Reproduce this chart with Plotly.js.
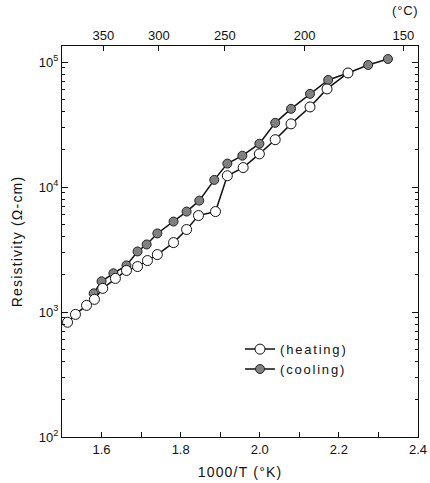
<!DOCTYPE html>
<html><head><meta charset="utf-8">
<script src="https://cdn.plot.ly/plotly-3.0.1.min.js"></script>
<style>html,body{margin:0;padding:0;background:#fff}#plot{width:430px;height:483px}
.xtitle, .ytitle {letter-spacing:1.2px}
.legendtext {letter-spacing:1.8px}
.annotation-text {letter-spacing:0.8px}
</style>
</head><body><div id="plot"></div>
<script>
// Heating series: 1000/T (1/K) and resistivity (ohm-cm)
const heatX = [1.514,1.534,1.562,1.582,1.603,1.635,1.663,1.691,1.716,1.741,1.782,1.815,1.845,1.888,1.918,1.958,1.999,2.039,2.079,2.127,2.170,2.223];
const heatY = [828,957,1130,1262,1545,1857,2150,2310,2580,2880,3590,4570,5910,6360,12300,14300,18400,23900,32000,43700,60900,81700];
// Cooling series
const coolX = [1.580,1.600,1.630,1.663,1.691,1.714,1.741,1.782,1.815,1.847,1.885,1.918,1.956,1.999,2.039,2.079,2.127,2.173,2.223,2.274,2.324];
const coolY = [1410,1760,2040,2360,3050,3470,4250,5290,6360,7780,11400,15400,17800,22200,32600,42200,55600,71800,81700,94600,105700];
// Top axis temperature labels (deg C)
const celsius = [350,300,250,200,150];
const celsiusPos = celsius.map(c => 1000/(c+273.15));
// Y tick labels
const yTickVals = [100,1000,10000,100000];
const yTickText = ['10<sup>2</sup>','10<sup>3</sup>','10<sup>4</sup>','10<sup>5</sup>'];

const fam = 'Liberation Sans, Arial, sans-serif';
const font = {family:fam, size:13, color:'#111'};
const traces = [
  {x:coolX, y:coolY, name:'(cooling)', mode:'lines+markers', type:'scatter',
   line:{color:'#111', width:1.5},
   marker:{symbol:'circle', size:9, color:'#808080', line:{color:'#222', width:1}}},
  {x:heatX, y:heatY, name:'(heating)', mode:'lines+markers', type:'scatter',
   line:{color:'#111', width:1.5},
   marker:{symbol:'circle', size:10, color:'#fff', line:{color:'#111', width:1}}},
  {x:[null], y:[null], xaxis:'x2', yaxis:'y2', showlegend:false, hoverinfo:'skip'}
];
const minorY = [];
for (let d=2; d<5; d++) for (let m=2; m<=9; m++) minorY.push(m*Math.pow(10,d));
const yRange = [2, 5.128];
const layout = {
  width:430, height:483,
  margin:{l:62, r:12, t:46, b:46},
  paper_bgcolor:'#fff', plot_bgcolor:'#fff',
  font:font,
  showlegend:true,
  legend:{x:0.5, y:0.263, xanchor:'left', yanchor:'top', traceorder:'reversed',
          bgcolor:'rgba(0,0,0,0)', font:{family:fam, size:13, color:'#111'},
          itemwidth:30, tracegroupgap:0},
  xaxis:{range:[1.5,2.4], tick0:1.6, dtick:0.2, tickformat:'.1f',
         ticks:'inside', ticklen:5, tickcolor:'#111', showgrid:false, zeroline:false,
         showline:true, linecolor:'#111', linewidth:1.2,
         minor:{dtick:0.1, tick0:1.5, ticks:'inside', ticklen:5, tickcolor:'#111', showgrid:false},
         title:{text:'1000/T (°K)', font:{family:fam, size:14}, standoff:11},
         tickfont:{family:fam, size:13}},
  xaxis2:{overlaying:'x', side:'top', range:[1.5,2.4], tickmode:'array',
          tickvals:celsiusPos, ticktext:celsius.map(String),
          ticks:'inside', ticklen:5, tickcolor:'#111', showgrid:false, zeroline:false,
          showline:true, linecolor:'#111', linewidth:1.2,
          tickfont:{family:fam, size:13}},
  yaxis:{type:'log', range:yRange, tickmode:'array', tickvals:yTickVals, ticktext:yTickText,
         ticks:'inside', ticklen:6, tickcolor:'#111', showgrid:false, zeroline:false,
         showline:true, linecolor:'#111', linewidth:1.2,
         minor:{tickmode:'array', tickvals:minorY, ticks:'inside', ticklen:3, tickcolor:'#111', showgrid:false},
         title:{text:'Resistivity (Ω-cm)', font:{family:fam, size:14}, standoff:12},
         tickfont:{family:fam, size:13}},
  yaxis2:{type:'log', overlaying:'y', side:'right', range:yRange, tickmode:'array',
          tickvals:yTickVals, showticklabels:false,
          ticks:'inside', ticklen:6, tickcolor:'#111', showgrid:false, zeroline:false,
          showline:true, linecolor:'#111', linewidth:1.2,
          minor:{tickmode:'array', tickvals:minorY, ticks:'inside', ticklen:3, tickcolor:'#111', showgrid:false}},
  annotations:[{text:'(°C)', xref:'paper', yref:'paper', x:1.0, y:1.0, yshift:26, xshift:2,
                xanchor:'right', yanchor:'bottom', showarrow:false, font:{family:fam, size:13}}]
};
Plotly.newPlot('plot', traces, layout, {staticPlot:true, displayModeBar:false});
</script></body></html>
